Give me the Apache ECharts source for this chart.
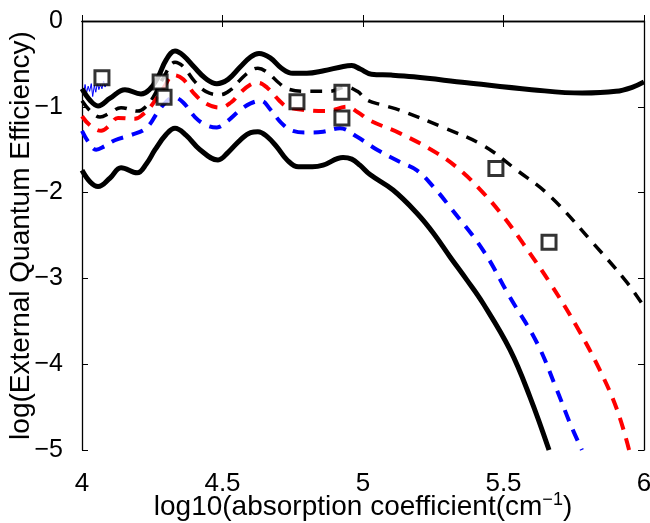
<!DOCTYPE html>
<html>
<head>
<meta charset="utf-8">
<script src="https://cdn.jsdelivr.net/npm/echarts@6/dist/echarts.min.js"></script>
<style>html,body{margin:0;padding:0;background:#fff}#c{width:650px;height:523px}</style>
</head>
<body>
<div id="c"></div>
<script>
// ---- data ----
var upperSolidX = [4.0, 4.03, 4.057, 4.10, 4.153, 4.21, 4.24, 4.27, 4.30, 4.331, 4.36, 4.40, 4.44, 4.48, 4.52, 4.562, 4.60, 4.63, 4.67, 4.71, 4.75, 4.80, 4.86, 4.93, 4.96, 4.99, 5.03, 5.10, 5.18, 5.37, 5.60, 5.78, 5.90, 5.96, 6.0];
var upperSolidY = [-0.79, -0.93, -0.99, -0.90, -0.80, -0.85, -0.80, -0.66, -0.45, -0.35, -0.40, -0.54, -0.67, -0.73, -0.68, -0.54, -0.42, -0.38, -0.43, -0.55, -0.61, -0.61, -0.58, -0.53, -0.52, -0.56, -0.62, -0.63, -0.65, -0.72, -0.80, -0.84, -0.82, -0.77, -0.71];

var blackDashX = [4.0, 4.03, 4.064, 4.10, 4.139, 4.199, 4.23, 4.253, 4.29, 4.331, 4.36, 4.40, 4.44, 4.49, 4.53, 4.562, 4.60, 4.626, 4.66, 4.70, 4.73, 4.80, 4.88, 4.94, 4.98, 5.014, 5.07, 5.132, 5.285, 5.427, 5.548, 5.665, 5.819, 5.94, 6.0];
var blackDashY = [-0.93, -1.05, -1.12, -1.07, -1.01, -1.05, -0.99, -0.89, -0.66, -0.48, -0.53, -0.70, -0.82, -0.86, -0.80, -0.69, -0.58, -0.55, -0.60, -0.72, -0.79, -0.82, -0.82, -0.77, -0.82, -0.92, -0.98, -1.04, -1.24, -1.45, -1.74, -2.04, -2.59, -3.05, -3.33];

var redDashX = [4.0, 4.03, 4.068, 4.10, 4.128, 4.189, 4.22, 4.242, 4.29, 4.327, 4.36, 4.40, 4.44, 4.491, 4.53, 4.562, 4.60, 4.626, 4.66, 4.70, 4.73, 4.80, 4.872, 4.943, 4.98, 5.025, 5.132, 5.263, 5.35, 5.427, 5.50, 5.569, 5.665, 5.762, 5.843, 5.904, 5.947];
var redDashY = [-1.11, -1.22, -1.28, -1.21, -1.13, -1.14, -1.08, -1.01, -0.78, -0.63, -0.68, -0.85, -0.96, -1.01, -0.95, -0.84, -0.74, -0.72, -0.78, -0.92, -1.00, -1.04, -1.05, -1.00, -1.06, -1.16, -1.31, -1.54, -1.75, -2.00, -2.28, -2.59, -3.05, -3.57, -4.07, -4.53, -5.0];

var blueDashX = [4.0, 4.025, 4.050, 4.08, 4.117, 4.174, 4.228, 4.27, 4.30, 4.327, 4.36, 4.402, 4.44, 4.48, 4.52, 4.562, 4.60, 4.637, 4.67, 4.71, 4.75, 4.80, 4.858, 4.918, 4.979, 5.05, 5.13, 5.192, 5.25, 5.310, 5.427, 5.523, 5.619, 5.690, 5.737, 5.779];
var blueDashY = [-1.28, -1.42, -1.50, -1.46, -1.39, -1.33, -1.25, -1.06, -0.94, -0.89, -0.95, -1.12, -1.21, -1.24, -1.16, -1.04, -0.96, -0.93, -1.03, -1.19, -1.28, -1.30, -1.29, -1.25, -1.35, -1.50, -1.64, -1.74, -1.93, -2.17, -2.67, -3.22, -3.75, -4.30, -4.69, -5.0];

var lowerSolidX = [4.0, 4.03, 4.057, 4.10, 4.139, 4.196, 4.23, 4.26, 4.30, 4.331, 4.37, 4.42, 4.484, 4.52, 4.562, 4.60, 4.626, 4.66, 4.694, 4.73, 4.77, 4.82, 4.858, 4.929, 4.96, 4.989, 5.025, 5.107, 5.192, 5.25, 5.310, 5.37, 5.427, 5.523, 5.594, 5.662];
var lowerSolidY = [-1.74, -1.88, -1.93, -1.83, -1.71, -1.77, -1.66, -1.50, -1.32, -1.25, -1.33, -1.50, -1.62, -1.53, -1.39, -1.30, -1.29, -1.35, -1.47, -1.62, -1.70, -1.70, -1.68, -1.59, -1.61, -1.68, -1.79, -1.97, -2.24, -2.47, -2.75, -3.02, -3.29, -3.83, -4.38, -5.0];

var noisyBlueX = [4.0, 4.005, 4.011, 4.016, 4.022, 4.027, 4.033, 4.038, 4.044, 4.049, 4.055, 4.060, 4.066, 4.071, 4.077, 4.082, 4.088, 4.093];
var noisyBlueY = [-0.80, -0.86, -0.74, -0.84, -0.76, -0.82, -0.73, -0.88, -0.75, -0.83, -0.72, -0.80, -0.74, -0.79, -0.70, -0.77, -0.72, -0.75];

var squaresX = [4.071, 4.278, 4.292, 4.765, 4.925, 4.925, 5.473, 5.662];
var squaresY = [-0.66, -0.71, -0.89, -0.94, -0.83, -1.13, -1.72, -2.58];

var xTicks = [4, 4.5, 5, 5.5, 6];
var yTicks = [0, -1, -2, -3, -4, -5];

function pairs(xs, ys) { return xs.map(function (x, i) { return [x, ys[i]]; }); }
function fmt(v) { return String(v).replace('-', '\u2212'); }

var chart = echarts.init(document.getElementById('c'), null, { renderer: 'canvas' });
var font = '"Liberation Sans", Arial, Helvetica, sans-serif';
var axisLine = { show: true, lineStyle: { color: '#000', width: 1.3 } };
var tickIn = { show: true, inside: true, length: 6, lineStyle: { color: '#000', width: 1 } };
var SM = 0.4;

chart.setOption({
  animation: false,
  backgroundColor: '#fff',
  grid: { left: 82, right: 6, top: 21, bottom: 73, containLabel: false, outerBoundsMode: 'none' },
  xAxis: [
    { type: 'value', min: xTicks[0], max: xTicks[xTicks.length - 1], interval: 0.5, position: 'bottom',
      axisLine: axisLine, axisTick: tickIn, splitLine: { show: false },
      axisLabel: { color: '#000', fontSize: 26, fontFamily: font, margin: 21, formatter: function (v) { return fmt(v); } },
      name: 'log10(absorption coefficient(cm{s|\u22121})',
      nameLocation: 'middle', nameGap: 41, nameMoveOverlap: false,
      nameTextStyle: { color: '#000', fontSize: 28, fontFamily: font,
        rich: { s: { fontSize: 18, fontFamily: font, color: '#000', verticalAlign: 'top', padding: [0, 0, 14, 0] } } } },
    { type: 'value', min: xTicks[0], max: xTicks[xTicks.length - 1], interval: 0.5, position: 'top',
      axisLine: axisLine, axisTick: tickIn, axisLabel: { show: false }, splitLine: { show: false } }
  ],
  yAxis: [
    { type: 'value', min: yTicks[yTicks.length - 1], max: yTicks[0], interval: 1, position: 'left',
      axisLine: axisLine, axisTick: tickIn, splitLine: { show: false },
      axisLabel: { color: '#000', fontSize: 25, fontFamily: font, margin: 19, formatter: function (v) { return fmt(v); } },
      name: 'log(External Quantum Efficiency)', nameLocation: 'middle', nameGap: 47, nameRotate: 90, nameMoveOverlap: false,
      nameTextStyle: { color: '#000', fontSize: 28, fontFamily: font } },
    { type: 'value', min: yTicks[yTicks.length - 1], max: yTicks[0], interval: 1, position: 'right',
      axisLine: axisLine, axisTick: tickIn, axisLabel: { show: false }, splitLine: { show: false } }
  ],
  series: [
    { type: 'line', data: pairs(noisyBlueX, noisyBlueY), showSymbol: false, lineStyle: { color: '#0000ff', width: 1 }, z: 2 },
    { type: 'line', data: pairs(upperSolidX, upperSolidY), smooth: SM, showSymbol: false, lineStyle: { color: '#000', width: 5 }, z: 3 },
    { type: 'line', data: pairs(blackDashX, blackDashY), smooth: SM, showSymbol: false, lineStyle: { color: '#000', width: 3.5, type: [12, 9] }, z: 3 },
    { type: 'line', data: pairs(redDashX, redDashY), smooth: SM, showSymbol: false, lineStyle: { color: '#ff0000', width: 4, type: [12, 9] }, z: 3 },
    { type: 'line', data: pairs(blueDashX, blueDashY), smooth: SM, showSymbol: false, lineStyle: { color: '#0000ff', width: 4, type: [12, 9] }, z: 3 },
    { type: 'line', data: pairs(lowerSolidX, lowerSolidY), smooth: SM, showSymbol: false, lineStyle: { color: '#000', width: 5 }, z: 3 },
    { type: 'scatter', data: pairs(squaresX, squaresY), symbol: 'rect', symbolSize: 14,
      itemStyle: { color: '#fff', borderColor: '#000', borderWidth: 3 }, z: 5 }
  ]
});
</script>
</body>
</html>
